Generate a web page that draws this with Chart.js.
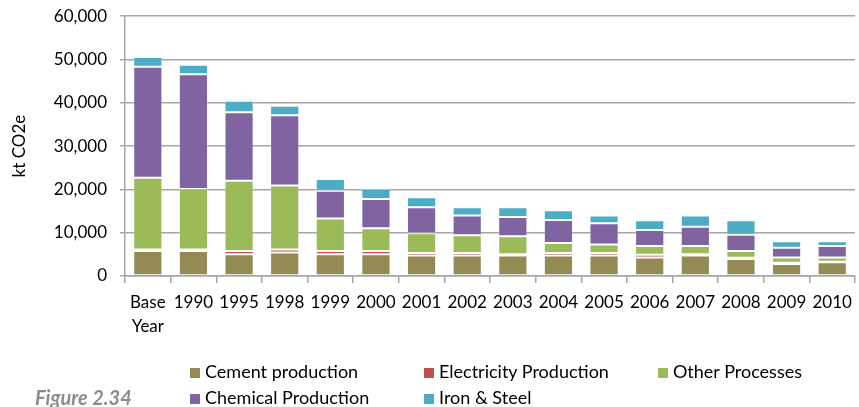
<!DOCTYPE html>
<html>
<head>
<meta charset="utf-8">
<script src="https://cdn.jsdelivr.net/npm/chart.js@4.4.1/dist/chart.umd.min.js"></script>
<style>
  body { margin: 0; background: #fff; overflow: hidden; }
  #wrap { position: relative; width: 859px; height: 407px; overflow: hidden; font-family: Lato, "Liberation Sans", sans-serif; }
  #chartCanvas { position: absolute; left: 0; top: -7px; }
  .item { position: absolute; font-size: 18px; color: #000; line-height: 20px; white-space: nowrap; }
  .item i { display: inline-block; width: 10px; height: 10px; margin-right: 5px; vertical-align: 0px; }
  #fig { position: absolute; left: 35px; top: 385px; color: #8c8c8c; font-weight: bold; font-style: italic; font-size: 20px; }
</style>
</head>
<body>
<div id="wrap">
  <canvas id="chartCanvas" width="859" height="414"></canvas>
  <div id="legend"></div>
  <div id="fig">Figure 2.34</div>
</div>
<script>
const years = [["Base", "Year"], "1990", "1995", "1998", "1999", "2000", "2001", "2002", "2003", "2004", "2005", "2006", "2007", "2008", "2009", "2010"];

// kt CO2e
const cement      = [5800, 5800, 5000, 5450, 5000, 5000, 4750, 4750, 4750, 4750, 4750, 4300, 4750, 3900, 2800, 3200];
const electricity = [300, 300, 750, 650, 750, 750, 550, 550, 300, 550, 550, 600, 300, 300, 260, 100];
const other       = [16600, 14000, 16250, 14800, 7550, 5250, 4600, 4100, 4150, 2350, 2000, 2000, 1850, 1550, 1240, 1000];
const chemical    = [25600, 26500, 15800, 16200, 6400, 6800, 6000, 4600, 4400, 5300, 4900, 3750, 4450, 3750, 2200, 2600];
const ironSteel   = [2300, 2200, 2700, 2200, 2700, 2300, 2300, 1900, 2300, 2250, 1800, 2250, 2650, 3400, 1550, 1150];

const yTicks = [0, 10000, 20000, 30000, 40000, 50000, 60000];

const series = [
  { label: "Cement production", data: cement, color: "#948A54" },
  { label: "Electricity Production", data: electricity, color: "#C0504D" },
  { label: "Other Processes", data: other, color: "#9BBB59" },
  { label: "Chemical Production", data: chemical, color: "#8064A2" },
  { label: "Iron & Steel", data: ironSteel, color: "#4BACC6" },
];

const gridGrey = "#a6a6a6";
const font = { family: "Lato, 'Liberation Sans', sans-serif", size: 17 };

const ctx = document.getElementById("chartCanvas").getContext("2d");
const chart = new Chart(ctx, {
  type: "bar",
  data: {
    labels: years,
    datasets: series.map(s => ({
      label: s.label,
      data: s.data,
      backgroundColor: s.color,
      borderColor: "rgba(255,255,255,0.22)",
      borderWidth: 1,
      borderSkipped: false,
      categoryPercentage: 0.64,
      barPercentage: 1,
    })),
  },
  options: {
    responsive: false,
    animation: false,
    layout: { padding: { top: 8, right: 2, left: 0, bottom: 0 } },
    plugins: { legend: { display: false }, tooltip: { enabled: false } },
    scales: {
      x: {
        stacked: true,
        afterFit: s => { s.height = 131; },
        border: { color: gridGrey, width: 1.5 },
        grid: { offset: true, drawOnChartArea: false, tickLength: 7, color: gridGrey, lineWidth: 1.5 },
        ticks: { color: "#000", font: { ...font, lineHeight: 1.45 }, padding: 7, maxRotation: 0, autoSkip: false },
      },
      y: {
        stacked: true,
        min: 0,
        max: 60000,
        afterFit: s => { s.width = 125; },
        afterBuildTicks: s => { s.ticks = yTicks.map(v => ({ value: v })); },
        border: { color: gridGrey, width: 1.5 },
        grid: { color: gridGrey, lineWidth: 1.5, tickLength: 5 },
        ticks: { color: "#000", font, padding: 13, callback: v => v.toLocaleString("en-US") },
        title: { display: true, text: "kt CO2e", color: "#000", font, padding: { top: 9, bottom: 0 } },
      },
    },
  },
});

// legend laid out in columns like the original
const cols = [190, 424, 658];
const rows = [361, 387];
const legend = document.getElementById("legend");
chart.data.datasets.forEach((ds, i) => {
  const el = document.createElement("div");
  el.className = "item";
  el.style.left = cols[i % 3] + "px";
  el.style.top = rows[Math.floor(i / 3)] + "px";
  el.innerHTML = `<i style="background:${ds.backgroundColor}"></i>${ds.label}`;
  legend.appendChild(el);
});
</script>
</body>
</html>
